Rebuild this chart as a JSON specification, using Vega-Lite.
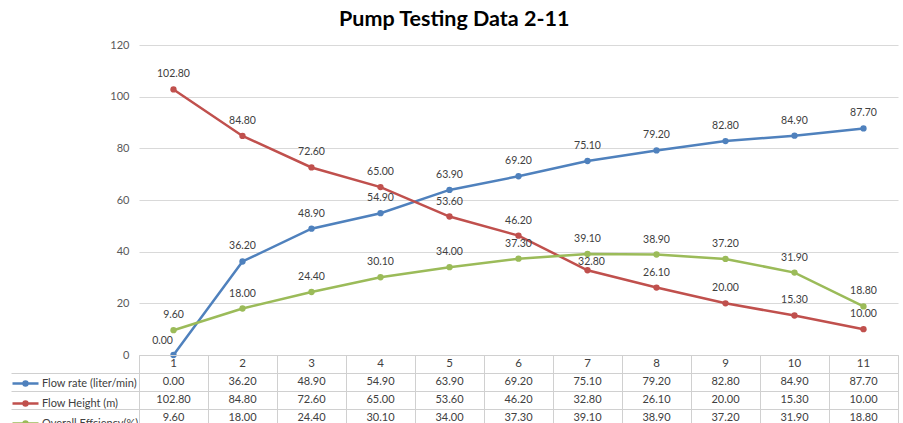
{
  "$schema": "https://vega.github.io/schema/vega-lite/v6.json",
  "padding": {"left": 10, "top": 8, "right": 5, "bottom": 0},
  "background": "white",
  "title": {"text": "Pump Testing Data 2-11", "font": "Lato", "fontSize": 21.5, "fontWeight": "bold", "color": "#000000", "anchor": "middle", "frame": "bounds", "offset": 9},
  "datasets": {
    "pump": [
      {"step": 1, "series": "Flow rate (liter/min)", "value": 0},
      {"step": 2, "series": "Flow rate (liter/min)", "value": 36.2},
      {"step": 3, "series": "Flow rate (liter/min)", "value": 48.9},
      {"step": 4, "series": "Flow rate (liter/min)", "value": 54.9},
      {"step": 5, "series": "Flow rate (liter/min)", "value": 63.9},
      {"step": 6, "series": "Flow rate (liter/min)", "value": 69.2},
      {"step": 7, "series": "Flow rate (liter/min)", "value": 75.1},
      {"step": 8, "series": "Flow rate (liter/min)", "value": 79.2},
      {"step": 9, "series": "Flow rate (liter/min)", "value": 82.8},
      {"step": 10, "series": "Flow rate (liter/min)", "value": 84.9},
      {"step": 11, "series": "Flow rate (liter/min)", "value": 87.7},
      {"step": 1, "series": "Flow Height (m)", "value": 102.8},
      {"step": 2, "series": "Flow Height (m)", "value": 84.8},
      {"step": 3, "series": "Flow Height (m)", "value": 72.6},
      {"step": 4, "series": "Flow Height (m)", "value": 65.0},
      {"step": 5, "series": "Flow Height (m)", "value": 53.6},
      {"step": 6, "series": "Flow Height (m)", "value": 46.2},
      {"step": 7, "series": "Flow Height (m)", "value": 32.8},
      {"step": 8, "series": "Flow Height (m)", "value": 26.1},
      {"step": 9, "series": "Flow Height (m)", "value": 20.0},
      {"step": 10, "series": "Flow Height (m)", "value": 15.3},
      {"step": 11, "series": "Flow Height (m)", "value": 10.0},
      {"step": 1, "series": "Overall Effciency(%)", "value": 9.6},
      {"step": 2, "series": "Overall Effciency(%)", "value": 18.0},
      {"step": 3, "series": "Overall Effciency(%)", "value": 24.4},
      {"step": 4, "series": "Overall Effciency(%)", "value": 30.1},
      {"step": 5, "series": "Overall Effciency(%)", "value": 34.0},
      {"step": 6, "series": "Overall Effciency(%)", "value": 37.3},
      {"step": 7, "series": "Overall Effciency(%)", "value": 39.1},
      {"step": 8, "series": "Overall Effciency(%)", "value": 38.9},
      {"step": 9, "series": "Overall Effciency(%)", "value": 37.2},
      {"step": 10, "series": "Overall Effciency(%)", "value": 31.9},
      {"step": 11, "series": "Overall Effciency(%)", "value": 18.8}
    ]
  },
  "spacing": 0,
  "bounds": "flush",
  "resolve": {"legend": {"color": "independent"}},
  "config": {"view": {"stroke": null}, "font": "Lato"},
  "vconcat": [
    {
      "width": 759,
      "height": 310,
      "data": {"name": "pump"},
      "encoding": {
        "x": {"field": "step", "type": "ordinal", "scale": {"paddingInner": 0, "paddingOuter": 0}, "axis": null},
        "y": {"field": "value", "type": "quantitative", "scale": {"domain": [0, 120]},
              "axis": {"values": [0, 20, 40, 60, 80, 100, 120], "grid": true, "gridColor": "#d9d9d9", "domain": false, "ticks": false, "labelColor": "#595959", "labelFontSize": 11, "labelPadding": 10, "title": null}}
      },
      "layer": [
        {
          "mark": {"type": "line", "strokeWidth": 2.5, "point": {"filled": true, "size": 40}},
          "encoding": {
            "color": {"field": "series", "type": "nominal",
              "scale": {"domain": ["Flow rate (liter/min)", "Flow Height (m)", "Overall Effciency(%)"], "range": ["#4F81BD", "#C0504D", "#9BBB59"]},
              "legend": {"orient": "none", "legendX": -121.5, "legendY": 330.5, "title": null,
                "symbolType": "M-2,0L2,0M0.3,0A0.3,0.3,0,1,1,-0.3,0A0.3,0.3,0,1,1,0.3,0",
                "symbolSize": 169, "symbolStrokeWidth": 2.5, "labelFontSize": 11, "labelColor": "#404040", "labelOffset": 8.5, "rowPadding": 5, "padding": 0, "labelFont": "Lato", "labelLimit": 200}}
          }
        },
        {
          "transform": [{"filter": "!((datum.series == 'Flow rate (liter/min)' && datum.step == 1) || (datum.series == 'Flow Height (m)' && datum.step == 7))"}],
          "mark": {"type": "text", "dy": -15, "fontSize": 10.5, "color": "#404040"},
          "encoding": {"text": {"field": "value", "type": "quantitative", "format": ".2f"}}
        },
        {
          "transform": [{"filter": "datum.series == 'Flow rate (liter/min)' && datum.step == 1"}],
          "mark": {"type": "text", "dx": -11, "dy": -14, "fontSize": 10.5, "color": "#404040"},
          "encoding": {"text": {"field": "value", "type": "quantitative", "format": ".2f"}}
        },
        {
          "transform": [{"filter": "datum.series == 'Flow Height (m)' && datum.step == 7"}],
          "mark": {"type": "text", "dx": 4, "dy": -8, "fontSize": 10.5, "color": "#404040"},
          "encoding": {"text": {"field": "value", "type": "quantitative", "format": ".2f"}}
        }
      ]
    },
    {
      "width": 759,
      "height": 72,
      "data": {"name": "pump"},
      "view": {"stroke": "#d0d0d0"},
      "encoding": {
        "x": {"field": "step", "type": "ordinal", "scale": {"paddingInner": 0, "paddingOuter": 0},
              "axis": {"orient": "top", "tickBand": "extent", "grid": true, "gridColor": "#d0d0d0", "labels": false, "ticks": false, "domain": false, "title": null, "labelOverlap": false}},
        "y": {"field": "series", "type": "nominal",
              "scale": {"domain": ["Step", "Flow rate (liter/min)", "Flow Height (m)", "Overall Effciency(%)"], "paddingInner": 0, "paddingOuter": 0},
              "axis": {"values": ["Flow rate (liter/min)", "Flow Height (m)", "Overall Effciency(%)"], "tickBand": "extent", "grid": true, "gridColor": "#d0d0d0", "ticks": true, "tickSize": 128, "tickWidth": 1, "tickColor": "#d0d0d0", "labels": false, "domain": false, "title": null}}
      },
      "layer": [
        {
          "mark": {"type": "text", "fontSize": 11, "color": "#404040"},
          "encoding": {"text": {"field": "value", "type": "quantitative", "format": ".2f"}}
        },
        {
          "transform": [{"filter": "datum.series == 'Flow rate (liter/min)'"}],
          "mark": {"type": "text", "fontSize": 11.5, "color": "#404040"},
          "encoding": {"y": {"datum": "Step"}, "text": {"field": "step", "type": "ordinal"}}
        }
      ]
    }
  ]
}
